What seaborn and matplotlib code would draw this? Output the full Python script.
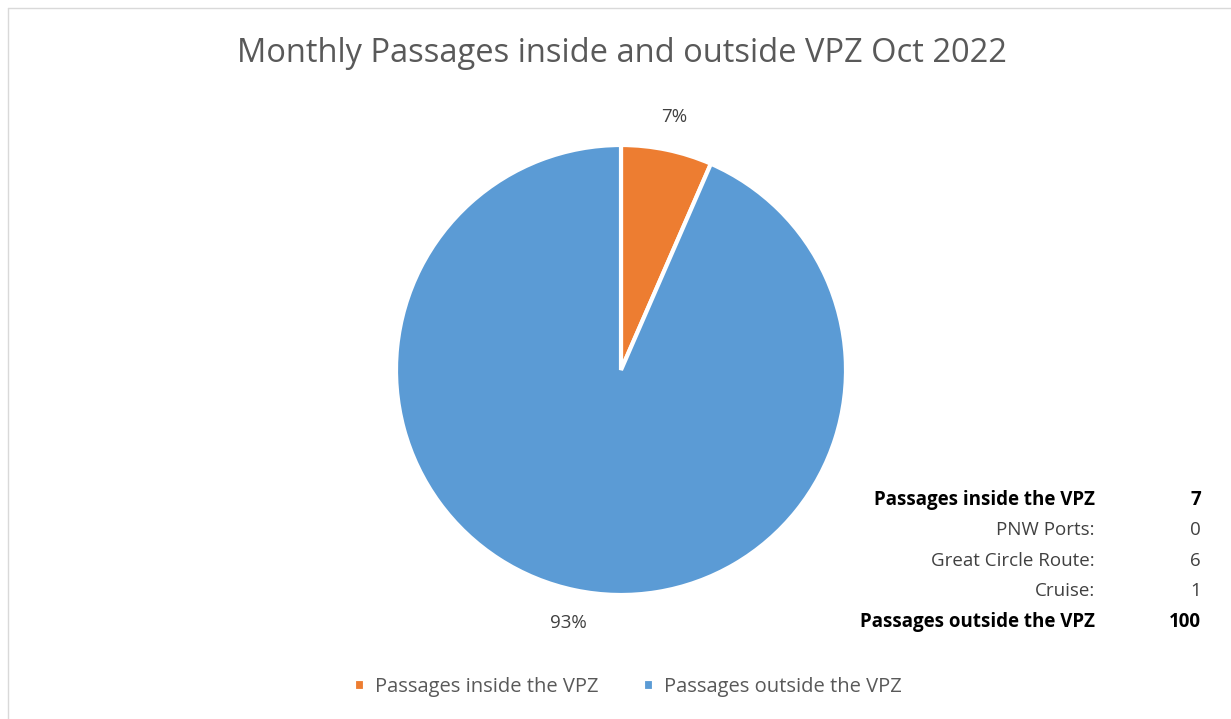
import matplotlib
matplotlib.use('Agg')
import matplotlib.pyplot as plt
import seaborn as sns

categories = ['Passages inside the VPZ', 'Passages outside the VPZ']
passages = [7, 100]
colors = ['#ED7D31', '#5B9BD5']

table_labels = ['Passages inside the VPZ', 'PNW Ports:', 'Great Circle Route:', 'Cruise:', 'Passages outside the VPZ']
table_values = ['7', '0', '6', '1', '100']
table_bold = [True, False, False, False, True]

sns.set_theme(style='white')
plt.rcParams['font.family'] = ['Open Sans', 'DejaVu Sans']

fig = plt.figure(figsize=(12.31, 7.19), dpi=100)

# chart frame (light border, top/left)
fig.add_artist(plt.Line2D([8/1231, 8/1231], [0, 1 - 8/719], color='#D9D9D9', lw=1))
fig.add_artist(plt.Line2D([8/1231, 1], [1 - 8/719, 1 - 8/719], color='#D9D9D9', lw=1))

ax = fig.add_axes([(621 - 225) / 1231, (349 - 225) / 719, 450 / 1231, 450 / 719])
wedges, texts, autotexts = ax.pie(passages, colors=colors, startangle=90, counterclock=False,
                                  autopct='%1.0f%%', pctdistance=1.15,
                                  wedgeprops=dict(edgecolor='white', linewidth=3),
                                  textprops=dict(color='#404040', fontsize=13.5))
ax.set_xlim(-1, 1)
ax.set_ylim(-1, 1)
ax.set_aspect('equal')

fig.text(0.505, 1 - 53/719, 'Monthly Passages inside and outside VPZ Oct 2022',
         ha='center', va='center', fontsize=23.5, color='#595959')

row_y = [500, 530, 561, 591, 622]
for lab, val, b, y in zip(table_labels, table_values, table_bold, row_y):
    w = 'bold' if b else 'normal'
    fig.text(1095/1231, 1 - y/719, lab, ha='right', va='center', fontsize=13.5,
             fontweight=w, color='black' if b else '#404040')
    fig.text(1201/1231, 1 - y/719, val, ha='right', va='center', fontsize=13.5,
             fontweight=w, color='black' if b else '#404040')

fig.legend(wedges, categories, loc='center', bbox_to_anchor=(0.51, 1 - 687/719), ncol=2,
           frameon=False, fontsize=14.5, handlelength=0.55, handleheight=0.55,
           columnspacing=2.2, handletextpad=0.5, labelcolor='#595959')

fig.savefig('out.png', dpi=100)
